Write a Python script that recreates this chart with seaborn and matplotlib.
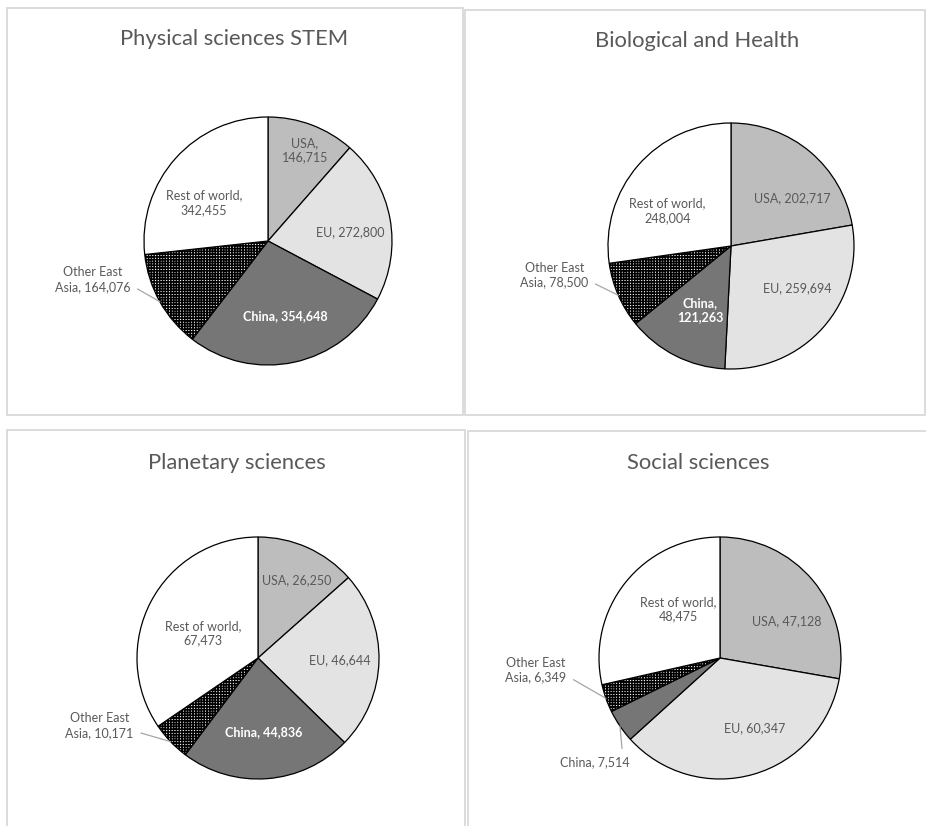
import matplotlib
matplotlib.use("Agg")
import matplotlib.pyplot as plt
import seaborn as sns
import numpy as np
from matplotlib.patches import Rectangle

# Publications by region, four subject areas
regions = ["USA", "EU", "China", "Other East Asia", "Rest of world"]
titles = ["Physical sciences STEM", "Biological and Health",
          "Planetary sciences", "Social sciences"]
physical = [146715, 272800, 354648, 164076, 342455]
biological = [202717, 259694, 121263, 78500, 248004]
planetary = [26250, 46644, 44836, 10171, 67473]
social = [47128, 60347, 7514, 6349, 48475]
panels_data = [physical, biological, planetary, social]

sns.set_theme(style="white")
plt.rcParams["font.family"] = ["Lato", "DejaVu Sans"]
plt.rcParams["hatch.linewidth"] = 1.15

W, H = 926, 826
TEXT = "#595959"
LEADER = "#a6a6a6"
FRAME = "#d9d9d9"
colors = ["#bdbdbd", "#e3e3e3", "#767676", "white", "white"]

# Layout of each panel (pixel units, y measured from the top)
layout = [
    dict(box=(7, 8, 463, 415), center=(268, 241), radius=124, title=(234, 39)),
    dict(box=(465, 10, 925, 415), center=(731, 246), radius=123, title=(697, 41)),
    dict(box=(7, 430, 465, 840), center=(258, 658), radius=121, title=(237, 463)),
    dict(box=(468, 431, 940, 840), center=(720, 658), radius=121, title=(698, 463)),
]

# Label placement: inside labels -> (radial fraction, clockwise nudge in degrees)
# outside labels -> text offset from the wedge rim plus leader attachment
label_style = [
    {"USA": ("in", 0.79, 1.4, "USA,\n{v}"),
     "EU": ("in", 0.665, 4, "EU, {v}"),
     "China": ("in", 0.62, -0.8, "China, {v}"),
     "Other East Asia": ("out", -67, -22, (1.0, 0.3), "Other East\nAsia, {v}"),
     "Rest of world": ("in", 0.60, -11, "Rest of world,\n{v}")},
    {"USA": ("in", 0.63, 12, "USA, {v}"),
     "EU": ("in", 0.64, -9.5, "EU, {v}"),
     "China": ("in", 0.58, -1, "China,\n{v}"),
     "Other East Asia": ("out", -64, -20, (1.0, 0.3), "Other East\nAsia, {v}"),
     "Rest of world": ("in", 0.59, -12, "Rest of world,\n{v}")},
    {"USA": ("in", 0.72, 2.4, "USA, {v}"),
     "EU": ("in", 0.68, 0, "EU, {v}"),
     "China": ("in", 0.61, 0, "China, {v}"),
     "Other East Asia": ("out", -71, -16, (1.0, 0.3), "Other East\nAsia, {v}"),
     "Rest of world": ("in", 0.50, -3.4, "Rest of world,\n{v}")},
    {"USA": ("in", 0.63, 11, "USA, {v}"),
     "EU": ("in", 0.65, -10, "EU, {v}"),
     "China": ("out", -25, 36, (0.9, 1.0), "China, {v}"),
     "Other East Asia": ("out", -70, -28, (1.0, 0.3), "Other East\nAsia, {v}"),
     "Rest of world": ("in", 0.53, 11, "Rest of world,\n{v}")},
]

fig = plt.figure(figsize=(W / 100, H / 100), dpi=100)
ax = fig.add_axes([0, 0, 1, 1])

for values, title, lay, styles in zip(panels_data, titles, layout, label_style):
    x0, y0, x1, y1 = lay["box"]
    ax.add_patch(Rectangle((x0, H - y1), x1 - x0, y1 - y0, fill=False,
                           edgecolor=FRAME, linewidth=1.3, zorder=0))
    cx, cy = lay["center"][0], H - lay["center"][1]
    r = lay["radius"]
    wedges, _ = ax.pie(values, center=(cx, cy), radius=r, startangle=90,
                       counterclock=False, colors=colors,
                       wedgeprops=dict(edgecolor="black", linewidth=0.9))
    wedges[3].set_hatch("++++++")

    tx, ty = lay["title"]
    ax.text(tx, H - ty, title, ha="center", va="center", fontsize=15.8,
            color=TEXT)

    for name, v, wdg in zip(regions, values, wedges):
        st = styles[name]
        mid = np.deg2rad((wdg.theta1 + wdg.theta2) / 2)
        china_in = name == "China" and st[0] == "in"
        color = "white" if china_in else TEXT
        weight = "bold" if china_in else "normal"
        if st[0] == "in":
            frac, nudge, fmt = st[1], st[2], st[3]
            a = mid - np.deg2rad(nudge)
            lx, ly = cx + frac * r * np.cos(a), cy + frac * r * np.sin(a)
            ax.text(lx, ly, fmt.format(v=f"{v:,}"), ha="center", va="center",
                    fontsize=9, color=color, fontweight=weight,
                    linespacing=1.25)
        else:
            dx, dy, rel, fmt = st[1], st[2], st[3], st[4]
            ex, ey = cx + r * np.cos(mid), cy + r * np.sin(mid)
            ax.annotate(fmt.format(v=f"{v:,}"), xy=(ex, ey),
                        xytext=(ex + dx, ey - dy), ha="center", va="center",
                        fontsize=9, color=TEXT, linespacing=1.25,
                        arrowprops=dict(arrowstyle="-", color=LEADER, lw=0.9,
                                        relpos=rel, shrinkA=3, shrinkB=0))

ax.set_xlim(0, W)
ax.set_ylim(0, H)
ax.set_aspect("equal")
ax.axis("off")
fig.savefig("out.png", dpi=100, facecolor="white")
